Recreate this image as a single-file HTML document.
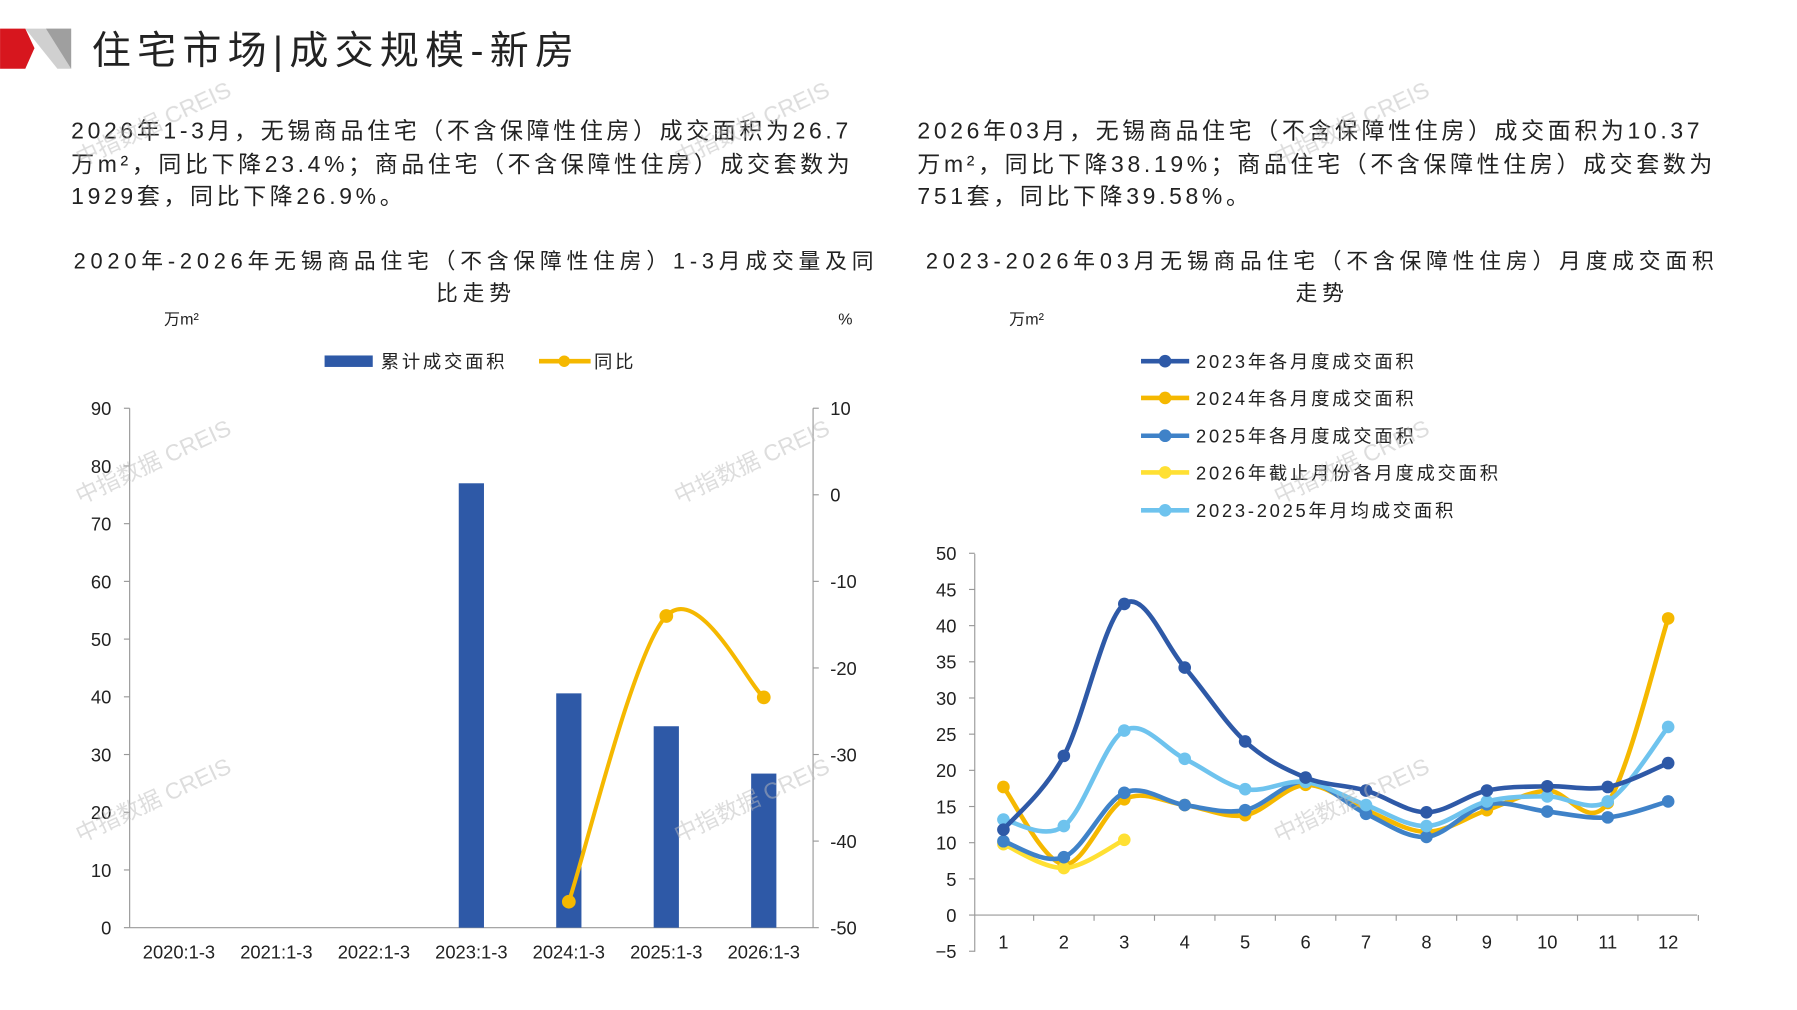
<!DOCTYPE html>
<html><head><meta charset="utf-8"><style>
html,body{margin:0;padding:0;background:#fff;}
svg{display:block;}
text{font-family:"Liberation Sans","Noto Sans CJK SC",sans-serif;fill:#222;}
</style></head><body>
<svg id="s" width="1797" height="1010" viewBox="0 0 1567 880.8" xmlns="http://www.w3.org/2000/svg">
<polygon points="0,25 22,25 30,42 22,60 0,60" fill="#d7161e"/>
<polygon points="22,25 62,25 62,60 50,60" fill="#d0d0d0"/>
<polygon points="40,25 62,25 62,60" fill="#8a8a8a" opacity="0.7"/>
<text x="80" y="56" font-size="34" letter-spacing="5.5">住宅市场|成交规模-新房</text>
<g font-size="20" letter-spacing="3.2">
<text x="62" y="121">2026年1-3月，无锡商品住宅（不含保障性住房）成交面积为26.7</text>
<text x="62" y="150">万m²，同比下降23.4%；商品住宅（不含保障性住房）成交套数为</text>
<text x="62" y="178">1929套，同比下降26.9%。</text>
<text x="800" y="121">2026年03月，无锡商品住宅（不含保障性住房）成交面积为10.37</text>
<text x="800" y="150">万m²，同比下降38.19%；商品住宅（不含保障性住房）成交套数为</text>
<text x="800" y="178">751套，同比下降39.58%。</text>
</g>
<g font-size="19" text-anchor="middle" letter-spacing="4.2">
<text x="415" y="234">2020年-2026年无锡商品住宅（不含保障性住房）1-3月成交量及同</text>
<text x="415" y="262">比走势</text>
<text x="1153" y="234">2023-2026年03月无锡商品住宅（不含保障性住房）月度成交面积</text>
<text x="1153" y="262">走势</text>
</g>
<g font-size="14">
<text x="143" y="283">万m²</text><text x="731" y="283">%</text><text x="880" y="283">万m²</text>
</g>
<rect x="283" y="310" width="42" height="10" fill="#2E59A7"/>
<text x="332" y="321" font-size="16" letter-spacing="2.4">累计成交面积</text>
<line x1="470" y1="315" x2="515" y2="315" stroke="#F5B800" stroke-width="4"/>
<circle cx="492" cy="315" r="5" fill="#F5B800"/>
<text x="518" y="321" font-size="16" letter-spacing="2.4">同比</text>
<g id="left" font-size="16"></g>
<g id="right" font-size="16"></g>
<g font-size="20" opacity="0.5">
<text x="70" y="440" transform="rotate(-25 70 440)" style="fill:#bbb">中指数据 CREIS</text>
<text x="70" y="735" transform="rotate(-25 70 735)" style="fill:#bbb">中指数据 CREIS</text>
<text x="592" y="440" transform="rotate(-25 592 440)" style="fill:#bbb">中指数据 CREIS</text>
<text x="592" y="735" transform="rotate(-25 592 735)" style="fill:#bbb">中指数据 CREIS</text>
<text x="1115" y="440" transform="rotate(-25 1115 440)" style="fill:#bbb">中指数据 CREIS</text>
<text x="1115" y="735" transform="rotate(-25 1115 735)" style="fill:#bbb">中指数据 CREIS</text>
<text x="70" y="145" transform="rotate(-25 70 145)" style="fill:#bbb">中指数据 CREIS</text>
<text x="592" y="145" transform="rotate(-25 592 145)" style="fill:#bbb">中指数据 CREIS</text>
<text x="1115" y="145" transform="rotate(-25 1115 145)" style="fill:#bbb">中指数据 CREIS</text>
</g>
</svg>
<script>
var NS="http://www.w3.org/2000/svg";
function el(p,t,a,txt){var e=document.createElementNS(NS,t);for(var k in a)e.setAttribute(k,a[k]);if(txt!=null)e.textContent=txt;p.appendChild(e);return e;}
function smooth(pts){var d="M"+pts[0][0]+","+pts[0][1];for(var i=0;i<pts.length-1;i++){var p0=pts[i-1]||pts[i],p1=pts[i],p2=pts[i+1],p3=pts[i+2]||p2;var t=6;d+=" C"+(p1[0]+(p2[0]-p0[0])/t)+","+(p1[1]+(p2[1]-p0[1])/t)+" "+(p2[0]-(p3[0]-p1[0])/t)+","+(p2[1]-(p3[1]-p1[1])/t)+" "+p2[0]+","+p2[1];}return d;}
var L=document.getElementById("left");
el(L,"line",{x1:113,y1:356,x2:113,y2:809,stroke:"#999"});
el(L,"line",{x1:709,y1:356,x2:709,y2:809,stroke:"#999"});
el(L,"line",{x1:113,y1:809,x2:709,y2:809,stroke:"#999"});
for(var v=0;v<=90;v+=10){var y=809-v*5.033;el(L,"line",{x1:108,y1:y,x2:113,y2:y,stroke:"#999"});el(L,"text",{x:97,y:y+6,"text-anchor":"end"},v);}
for(var v=10;v>=-50;v-=10){var y=356+(10-v)*7.55;el(L,"line",{x1:709,y1:y,x2:714,y2:y,stroke:"#999"});el(L,"text",{x:724,y:y+6},v);}
var cats=["2020:1-3","2021:1-3","2022:1-3","2023:1-3","2024:1-3","2025:1-3","2026:1-3"];
var bars=[0,0,0,77,40.6,34.9,26.7];
for(var i=0;i<7;i++){var cx=156+85*i;el(L,"text",{x:cx,y:836,"text-anchor":"middle"},cats[i]);if(bars[i]>0){var h=bars[i]*5.033;el(L,"rect",{x:cx-11,y:809-h,width:22,height:h,fill:"#2E59A7"});}}
var yp=[[496,-47],[581,-14],[666,-23.4]].map(function(p){return [p[0],356+(10-p[1])*7.55];});
el(L,"path",{d:smooth(yp),fill:"none",stroke:"#F5B800","stroke-width":3.5});
yp.forEach(function(p){el(L,"circle",{cx:p[0],cy:p[1],r:6,fill:"#F5B800"});});
var R=document.getElementById("right");
function Y(v){return 798-v*6.31;}
el(R,"line",{x1:850,y1:483,x2:850,y2:830,stroke:"#999"});
el(R,"line",{x1:850,y1:798,x2:1480,y2:798,stroke:"#999"});
for(var v=-5;v<=50;v+=5){var y=Y(v);el(R,"line",{x1:845,y1:y,x2:850,y2:y,stroke:"#999"});el(R,"text",{x:834,y:y+6,"text-anchor":"end"},v<0?"−5":v);}
for(var m=1;m<=12;m++){var x=875+52.7*(m-1);el(R,"text",{x:x,y:827,"text-anchor":"middle"},m);el(R,"line",{x1:x+26.35,y1:798,x2:x+26.35,y2:803,stroke:"#999"});}
var S=[
["#FFE033","2026年截止月份各月度成交面积",[9.8,6.5,10.4]],
["#F5B800","2024年各月度成交面积",[17.7,7,16,15.2,13.8,18,14.5,11.5,14.5,17.2,15.5,41]],
["#3F82C8","2025年各月度成交面积",[10.2,8,16.9,15.2,14.5,18.5,14,10.8,15.3,14.3,13.5,15.7]],
["#6EC3EE","2023-2025年月均成交面积",[13.2,12.3,25.5,21.6,17.4,18.4,15.2,12.3,15.7,16.4,15.7,26]],
["#2E59A7","2023年各月度成交面积",[11.8,22,43,34.2,24,19,17.2,14.2,17.2,17.8,17.7,21]]];
var order=[4,1,2,0,3];
var ly=[315,347,380,412,445];
order.forEach(function(si,k){var s=S[si];el(R,"line",{x1:995,y1:ly[k],x2:1037,y2:ly[k],stroke:s[0],"stroke-width":4});el(R,"circle",{cx:1016,cy:ly[k],r:5.5,fill:s[0]});el(R,"text",{x:1043,y:ly[k]+6,"font-size":16,"letter-spacing":2.4},s[1]);});
[1,0,2,3,4].forEach(function(si){var s=S[si];var pts=s[2].map(function(v,i){return [875+52.7*i,Y(v)];});
el(R,"path",{d:smooth(pts),fill:"none",stroke:s[0],"stroke-width":4});
pts.forEach(function(p){el(R,"circle",{cx:p[0],cy:p[1],r:5.5,fill:s[0]});});});
</script>
</body></html>
